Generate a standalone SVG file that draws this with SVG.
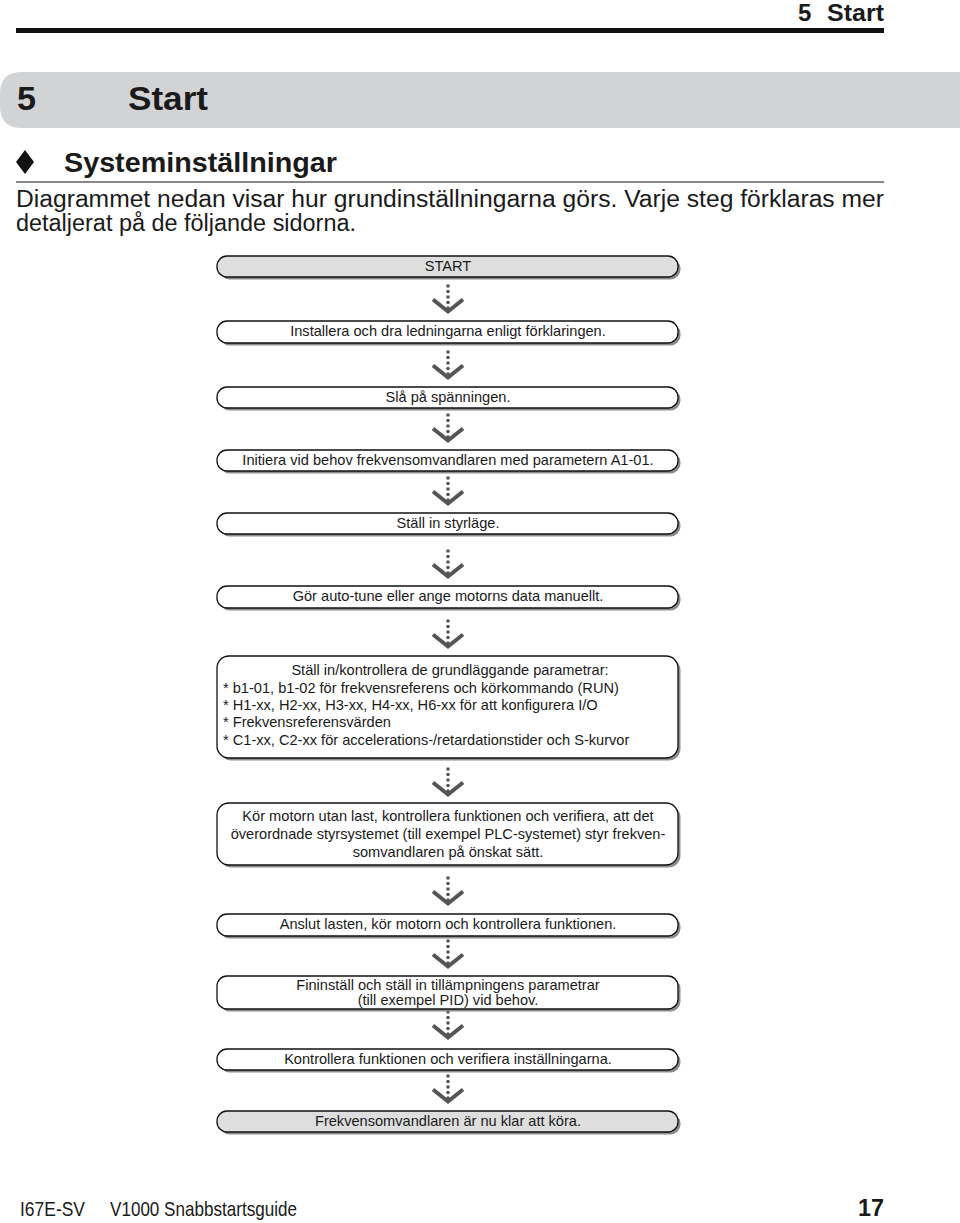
<svg xmlns="http://www.w3.org/2000/svg" xmlns:xlink="http://www.w3.org/1999/xlink" width="960" height="1223" viewBox="0 0 960 1223">
<style>
  .t { font-family: "Liberation Sans", Arial, sans-serif; fill: #1a1a1a; }
  .b { font-weight: bold; }
  .box { font-family: "Liberation Sans", Arial, sans-serif; font-size: 14.6px; fill: #1a1a1a; }
  .mid { text-anchor: middle; }
  .shadow { fill: #8c8c8c; }
  .frame { fill: #ffffff; stroke: #111111; stroke-width: 1.3; }
  .frame.grey { fill: #dedede; }
</style>
<defs>
  <g id="arrow">
    <circle cx="0" cy="-28" r="1.8" fill="#555"/>
    <circle cx="0" cy="-22.5" r="1.8" fill="#555"/>
    <circle cx="0" cy="-17" r="1.8" fill="#555"/>
    <circle cx="0" cy="-11.5" r="1.8" fill="#555"/>
    <circle cx="0" cy="-6" r="1.8" fill="#555"/>
    <path d="M -15 -14.5 L 0 -2.5 L 15 -14.5" fill="none" stroke="#555" stroke-width="4"/>
  </g>
</defs>
<rect width="960" height="1223" fill="#ffffff"/>

<g id="page-header">
  <text class="t b" x="798" y="21" font-size="24">5</text>
  <text class="t b" x="827" y="21" font-size="24" textLength="57" lengthAdjust="spacingAndGlyphs">Start</text>
  <rect x="16" y="28" width="868" height="5" fill="#111"/>
</g>

<g id="chapter-banner">
  <path d="M 960 72 L 22 72 Q 0 72 0 94 L 0 106 Q 0 128 22 128 L 960 128 Z" fill="#d2d3d5"/>
  <text class="t b" x="17" y="110" font-size="33" textLength="19" lengthAdjust="spacingAndGlyphs">5</text>
  <text class="t b" x="128" y="110" font-size="33" textLength="80" lengthAdjust="spacingAndGlyphs">Start</text>
</g>

<g id="section-heading">
  <path d="M 25 150 L 34 162 L 25 174 L 16 162 Z" fill="#111"/>
  <text class="t b" x="64" y="172" font-size="28" textLength="273" lengthAdjust="spacingAndGlyphs">Systeminställningar</text>
  <line x1="16" y1="182" x2="884" y2="182" stroke="#111" stroke-width="1.2"/>
</g>

<g id="intro">
  <text class="t" x="16" y="207" font-size="23" textLength="868" lengthAdjust="spacingAndGlyphs">Diagrammet nedan visar hur grundinställningarna görs. Varje steg förklaras mer</text>
  <text class="t" x="16" y="231" font-size="23" textLength="340" lengthAdjust="spacingAndGlyphs">detaljerat på de följande sidorna.</text>
</g>

<g id="connectors">
  <use xlink:href="#arrow" x="448" y="314"/>
  <use xlink:href="#arrow" x="448" y="380"/>
  <use xlink:href="#arrow" x="448" y="443"/>
  <use xlink:href="#arrow" x="448" y="506"/>
  <use xlink:href="#arrow" x="448" y="579"/>
  <use xlink:href="#arrow" x="448" y="649"/>
  <use xlink:href="#arrow" x="448" y="797"/>
  <use xlink:href="#arrow" x="448" y="906"/>
  <use xlink:href="#arrow" x="448" y="969"/>
  <use xlink:href="#arrow" x="448" y="1040"/>
  <use xlink:href="#arrow" x="448" y="1104"/>
</g>

<g id="n1">
  <rect class="shadow" x="219.5" y="258.5" width="461" height="21" rx="10"/>
  <rect class="frame grey" x="217" y="256" width="461" height="21" rx="10"/>
  <text class="box mid" x="448" y="271">START</text>
</g>
<g id="n2">
  <rect class="shadow" x="219.5" y="323.5" width="461" height="22" rx="10"/>
  <rect class="frame" x="217" y="321" width="461" height="22" rx="10"/>
  <text class="box mid" x="448" y="336">Installera och dra ledningarna enligt förklaringen.</text>
</g>
<g id="n3">
  <rect class="shadow" x="219.5" y="389.5" width="461" height="21" rx="10"/>
  <rect class="frame" x="217" y="387" width="461" height="21" rx="10"/>
  <text class="box mid" x="448" y="402">Slå på spänningen.</text>
</g>
<g id="n4">
  <rect class="shadow" x="219.5" y="452.5" width="461" height="21" rx="10"/>
  <rect class="frame" x="217" y="450" width="461" height="21" rx="10"/>
  <text class="box mid" x="448" y="465">Initiera vid behov frekvensomvandlaren med parametern A1-01.</text>
</g>
<g id="n5">
  <rect class="shadow" x="219.5" y="515.5" width="461" height="21" rx="10"/>
  <rect class="frame" x="217" y="513" width="461" height="21" rx="10"/>
  <text class="box mid" x="448" y="528">Ställ in styrläge.</text>
</g>
<g id="n6">
  <rect class="shadow" x="219.5" y="588.5" width="461" height="22" rx="10"/>
  <rect class="frame" x="217" y="586" width="461" height="22" rx="10"/>
  <text class="box mid" x="448" y="601">Gör auto-tune eller ange motorns data manuellt.</text>
</g>
<g id="n7">
  <rect class="shadow" x="219.5" y="658.5" width="461" height="102" rx="12"/>
  <rect class="frame" x="217" y="656" width="461" height="102" rx="12"/>
  <text class="box mid" x="450" y="675">Ställ in/kontrollera de grundläggande parametrar:</text>
  <text class="box" x="223" y="693">* b1-01, b1-02 för frekvensreferens och körkommando (RUN)</text>
  <text class="box" x="223" y="710">* H1-xx, H2-xx, H3-xx, H4-xx, H6-xx för att konfigurera I/O</text>
  <text class="box" x="223" y="727">* Frekvensreferensvärden</text>
  <text class="box" x="223" y="745">* C1-xx, C2-xx för accelerations-/retardationstider och S-kurvor</text>
</g>
<g id="n8">
  <rect class="shadow" x="219.5" y="805.5" width="461" height="62" rx="12"/>
  <rect class="frame" x="217" y="803" width="461" height="62" rx="12"/>
  <text class="box mid" x="448" y="821">Kör motorn utan last, kontrollera funktionen och verifiera, att det</text>
  <text class="box mid" x="448" y="839">överordnade styrsystemet (till exempel PLC-systemet) styr frekven-</text>
  <text class="box mid" x="448" y="857">somvandlaren på önskat sätt.</text>
</g>
<g id="n9">
  <rect class="shadow" x="219.5" y="916.5" width="461" height="22" rx="10"/>
  <rect class="frame" x="217" y="914" width="461" height="22" rx="10"/>
  <text class="box mid" x="448" y="929">Anslut lasten, kör motorn och kontrollera funktionen.</text>
</g>
<g id="n10">
  <rect class="shadow" x="219.5" y="978.5" width="461" height="33" rx="10"/>
  <rect class="frame" x="217" y="976" width="461" height="33" rx="10"/>
  <text class="box mid" x="448" y="990">Fininställ och ställ in tillämpningens parametrar</text>
  <text class="box mid" x="448" y="1005">(till exempel PID) vid behov.</text>
</g>
<g id="n11">
  <rect class="shadow" x="219.5" y="1051.5" width="461" height="21" rx="10"/>
  <rect class="frame" x="217" y="1049" width="461" height="21" rx="10"/>
  <text class="box mid" x="448" y="1064">Kontrollera funktionen och verifiera inställningarna.</text>
</g>
<g id="n12">
  <rect class="shadow" x="219.5" y="1113.5" width="461" height="21" rx="10"/>
  <rect class="frame grey" x="217" y="1111" width="461" height="21" rx="10"/>
  <text class="box mid" x="448" y="1126">Frekvensomvandlaren är nu klar att köra.</text>
</g>

<g id="footer">
  <text class="t" x="20" y="1216" font-size="21" textLength="65" lengthAdjust="spacingAndGlyphs">I67E-SV</text>
  <text class="t" x="110" y="1216" font-size="21" textLength="187" lengthAdjust="spacingAndGlyphs">V1000 Snabbstartsguide</text>
  <text class="t b" x="858" y="1216" font-size="24" textLength="26" lengthAdjust="spacingAndGlyphs">17</text>
</g>
</svg>
